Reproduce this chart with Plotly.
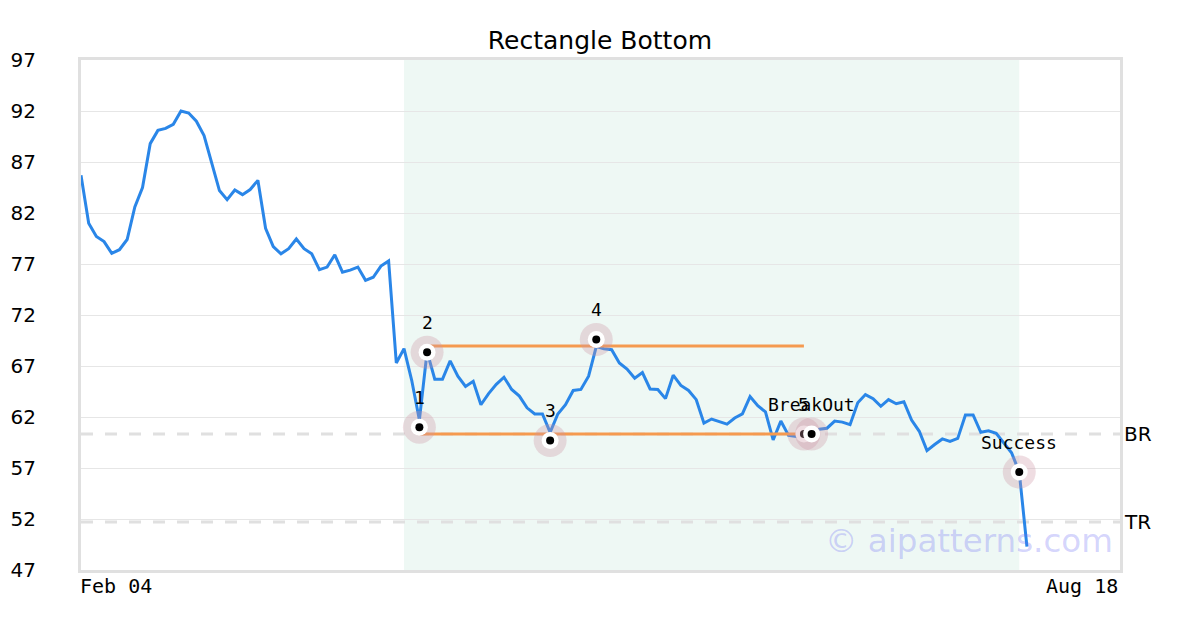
import plotly.graph_objects as go

# ---- data ----
close = [85.7, 81.0, 79.7, 79.2, 78.05, 78.4, 79.4, 82.6, 84.5, 88.8,
         90.1, 90.3, 90.7, 92.0, 91.8, 91.0, 89.6, 86.9, 84.2, 83.3,
         84.25, 83.8, 84.3, 85.2, 80.5, 78.7, 78.0, 78.5, 79.45, 78.5,
         78.0, 76.45, 76.7, 77.9, 76.2, 76.4, 76.7, 75.4, 75.7, 76.8,
         77.3, 67.3, 68.7, 65.6, 61.7, 68.4, 65.7, 65.7, 67.5, 66.0,
         65.0, 65.5, 63.2, 64.3, 65.2, 65.9, 64.7, 64.05, 62.9, 62.3,
         62.3, 60.5, 62.3, 63.2, 64.6, 64.7, 66.0, 68.9, 68.7, 68.6,
         67.3, 66.7, 65.8, 66.35, 64.75, 64.7, 63.8, 66.1, 65.1, 64.6,
         63.7, 61.4, 61.8, 61.55, 61.3, 61.9, 62.3, 64.0, 63.1, 62.5,
         59.75, 61.6, 60.2, 60.1, 60.5, 60.3, 60.8, 60.9, 61.6, 61.5,
         61.25, 63.4, 64.2, 63.8, 63.05, 63.7, 63.3, 63.5, 61.7, 60.6,
         58.7, 59.3, 59.85, 59.6, 59.9, 62.2, 62.2, 60.5, 60.65, 60.4,
         59.5, 58.5, 56.6, 49.3]
day_index = list(range(len(close)))

pattern_idx = [44, 45, 61, 67, 94, 95, 122]
pattern_val = [61.0, 68.35, 59.7, 69.6, 60.33, 60.33, 56.6]
pattern_lbl = ["1", "2", "3", "4", "5", "BreakOut", "Success"]

resistance_idx = [45, 94]
resistance_val = [68.95, 68.95]
support_idx = [44, 94]
support_val = [60.33, 60.33]

pattern_span = [42, 122]
level_names = ["BR", "TR"]
level_vals = [60.33, 51.7]

x_range = [0, 135.1]
x_tick_labels = ["Feb 04", "Aug 18"]
y_ticks = [47, 52, 57, 62, 67, 72, 77, 82, 87, 92, 97]

BLUE = "#2a86e8"
ORANGE = "#f59a4f"
GRID = "#e6e6e6"
FRAME = "#e0e0e0"

fig = go.Figure()

# shaded pattern region
fig.add_shape(type="rect", xref="x", yref="paper",
              x0=pattern_span[0], x1=pattern_span[1], y0=0, y1=1,
              fillcolor="#eef8f4", line_width=0, layer="below")

# BR / TR dashed levels
for v in level_vals:
    fig.add_shape(type="line", xref="paper", yref="y", x0=0, x1=1, y0=v, y1=v,
                  line=dict(color="#e0e0e0", width=3, dash="12px,12px"), layer="below")

# price line
fig.add_trace(go.Scatter(x=day_index, y=close, mode="lines",
                         line=dict(color=BLUE, width=3), hoverinfo="skip"))

# resistance / support lines
fig.add_trace(go.Scatter(x=resistance_idx, y=resistance_val, mode="lines",
                         line=dict(color=ORANGE, width=3), hoverinfo="skip"))
fig.add_trace(go.Scatter(x=support_idx, y=support_val, mode="lines",
                         line=dict(color=ORANGE, width=3), hoverinfo="skip"))

# pattern markers (halo, white ring, black dot)
for xi, yv in zip(pattern_idx, pattern_val):
    fig.add_trace(go.Scatter(x=[xi], y=[yv], mode="markers",
                             marker=dict(size=33, color="rgba(205,150,165,0.32)"),
                             hoverinfo="skip"))
    fig.add_trace(go.Scatter(x=[xi], y=[yv], mode="markers",
                             marker=dict(size=17, color="white"), hoverinfo="skip"))
    fig.add_trace(go.Scatter(x=[xi], y=[yv], mode="markers",
                             marker=dict(size=8, color="black"), hoverinfo="skip"))

annotations = []
for xi, yv, lbl in zip(pattern_idx, pattern_val, pattern_lbl):
    annotations.append(dict(x=xi, y=yv, xref="x", yref="y", text=lbl, showarrow=False,
                            yshift=30, font=dict(family="DejaVu Sans Mono", size=18, color="black")))

for name, v in zip(level_names, level_vals):
    annotations.append(dict(x=1, y=v, xref="paper", yref="y", text=name, showarrow=False,
                            xanchor="left", xshift=2,
                            font=dict(family="DejaVu Sans", size=20, color="black")))

annotations.append(dict(x=x_range[0], y=0, xref="x", yref="paper", text=x_tick_labels[0],
                        showarrow=False, xanchor="left", yanchor="top", yshift=-2, xshift=-3,
                        font=dict(family="DejaVu Sans Mono", size=20, color="black")))
annotations.append(dict(x=x_range[1], y=0, xref="x", yref="paper", text=x_tick_labels[1],
                        showarrow=False, xanchor="right", yanchor="top", yshift=-2,
                        font=dict(family="DejaVu Sans Mono", size=20, color="black")))

annotations.append(dict(x=1, y=0.057, xref="paper", yref="paper", text="© aipatterns.com",
                        showarrow=False, xanchor="right", yanchor="middle", xshift=-5,
                        font=dict(family="DejaVu Sans", size=32.5, color="rgba(110,110,245,0.3)")))

fig.update_layout(
    width=1200, height=630,
    margin=dict(l=73, r=88, t=52, b=68, autoexpand=False),
    paper_bgcolor="white", plot_bgcolor="white",
    showlegend=False,
    title=dict(text="Rectangle Bottom", x=0.4933, xanchor="center", y=0.949, yanchor="middle",
               font=dict(family="DejaVu Sans", size=25, color="black")),
    annotations=annotations,
    xaxis=dict(range=x_range, showgrid=False, zeroline=False, showticklabels=False,
               automargin=False,
               showline=True, mirror=True, linecolor=FRAME, linewidth=3),
    yaxis=dict(range=[47, 97], tickvals=y_ticks, showgrid=True, gridcolor=GRID, gridwidth=1,
               automargin=False,
               zeroline=False, showline=True, mirror=True, linecolor=FRAME, linewidth=3,
               ticks="", ticklabelstandoff=38,
               tickfont=dict(family="DejaVu Sans", size=20, color="black")),
)

fig.write_html("out.html")
